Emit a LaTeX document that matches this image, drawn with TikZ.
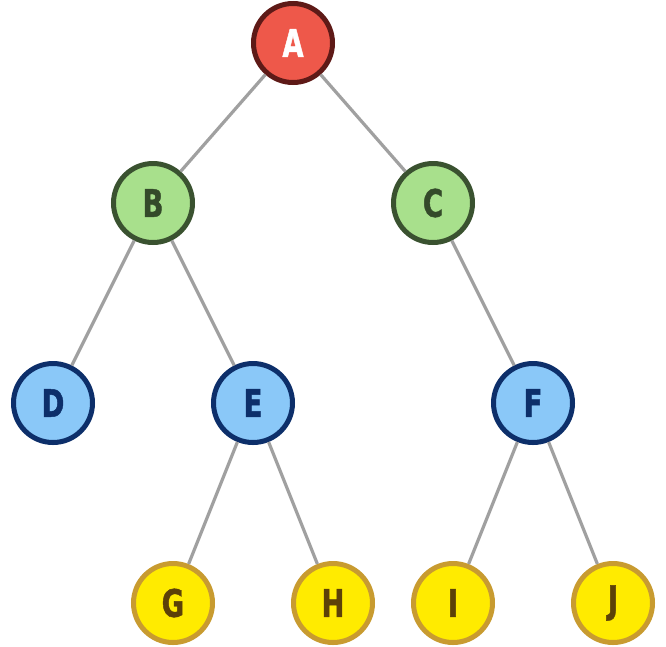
\documentclass[tikz,border=0pt]{standalone}
\usepackage{fontspec}
\usepackage{tikz}
\usepackage{xcolor}
\newfontfamily\lblfont{DejaVu Sans Condensed}[FakeStretch=0.8,FakeBold=1.2]
\definecolor{redfill}{HTML}{EE584A}
\definecolor{redline}{HTML}{5E1A17}
\definecolor{grnfill}{HTML}{A8E08C}
\definecolor{grnline}{HTML}{3A5230}
\definecolor{grntext}{HTML}{344A2A}
\definecolor{bluefill}{HTML}{8AC8F8}
\definecolor{blueline}{HTML}{0D2F6A}
\definecolor{yelfill}{HTML}{FFEB00}
\definecolor{yelline}{HTML}{C89B30}
\definecolor{yeltext}{HTML}{5C4108}
\definecolor{edgegray}{HTML}{A0A0A0}

\begin{document}
\begin{tikzpicture}[x=1pt,y=-1pt,
  vert/.style={circle,line width=5pt,minimum size=79pt,inner sep=0pt,
    font=\lblfont\bfseries\fontsize{38}{38}\selectfont},
  root/.style={vert,draw=redline,fill=redfill,text=white},
  inner/.style={vert,draw=grnline,fill=grnfill,text=grntext},
  mid/.style={vert,draw=blueline,fill=bluefill,text=blueline},
  leaf/.style={vert,draw=yelline,fill=yelfill,text=yeltext},
  tedge/.style={draw=edgegray,line width=3.2pt}]
  \useasboundingbox (0,0) rectangle (666,646);
  % levels
  \node[root]  (A) at (293,43)  {A};
  \node[inner] (B) at (153,203) {B};
  \node[inner] (C) at (433,203) {C};
  \node[mid]   (D) at (53,403)  {D};
  \node[mid]   (E) at (253,403) {E};
  \node[mid]   (F) at (533,403) {F};
  \node[leaf]  (G) at (173,603) {G};
  \node[leaf]  (H) at (333,603) {H};
  \node[leaf]  (I) at (453,603) {I};
  \node[leaf]  (J) at (613,603) {J};
  % edges
  \foreach \p/\c in {A/B,A/C,B/D,B/E,C/F,E/G,E/H,F/I,F/J}
    \path[tedge] (\p) -- (\c);
\end{tikzpicture}
\end{document}
